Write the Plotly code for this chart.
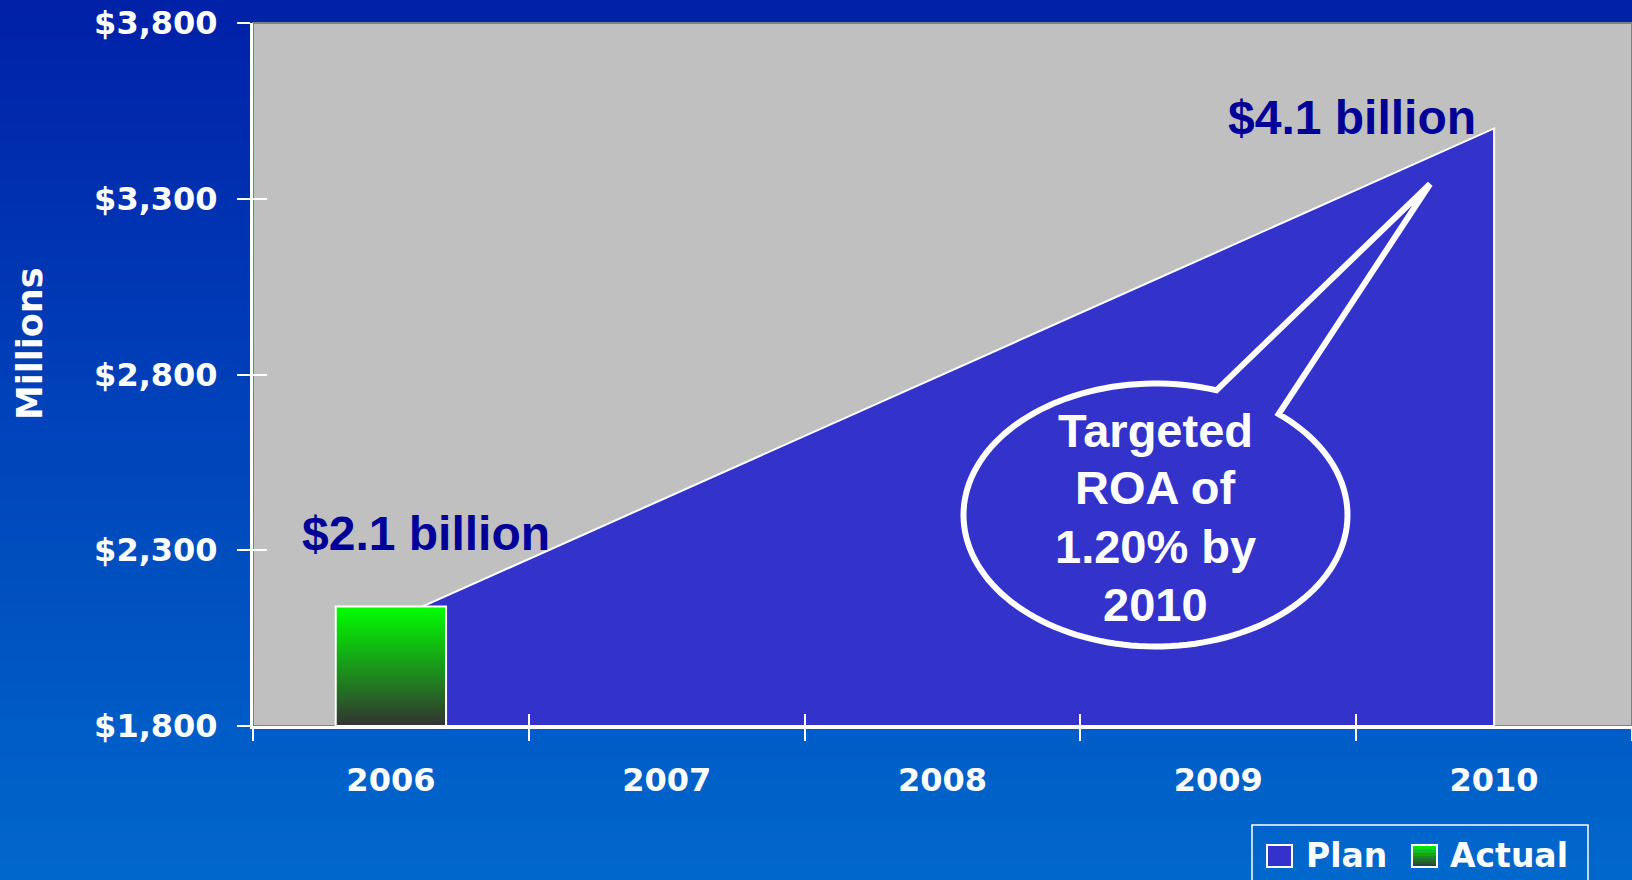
import math
import plotly.graph_objects as go

# ---- data (millions of dollars) ----
years = ["2006", "2007", "2008", "2009", "2010"]
plan = [2100, 2450, 2800, 3150, 3500]
actual_years = ["2006"]
actual = [2140]
y_ticks = [1800, 2300, 2800, 3300, 3800]
y_tick_text = ["${:,}".format(v) for v in y_ticks]

Y_MIN, Y_MAX = 1800, 3800
BAR_HALF = 0.2

# ---- page geometry ----
W, H = 1632, 880
ML, MR, MT, MB = 253, 0, 23, 154
PW = W - ML - MR
PH = H - MT - MB


def px_x(px):
    return (px - ML) / PW


def px_y(py):
    return (H - MB - py) / PH


PLAN_BLUE = "#3333CC"
NAVY = "#000099"
WHITE = "white"
TICK_FONT = dict(family="DejaVu Sans", size=32, color=WHITE, weight="bold")
LABEL_FONT = "Liberation Sans"

idx = list(range(len(years)))
bounds = [i - 0.5 for i in idx] + [idx[-1] + 0.5]

fig = go.Figure()

# Plan: filled region under the plan line
fig.add_trace(go.Scatter(
    x=idx + [idx[-1], idx[0]],
    y=plan + [Y_MIN, Y_MIN],
    mode="lines", fill="toself", fillcolor=PLAN_BLUE,
    line=dict(color=WHITE, width=2),
    name="Plan", showlegend=False, hoverinfo="skip",
))

# Actual: gradient bar(s)
for yr, val in zip(actual_years, actual):
    c = years.index(yr)
    fig.add_trace(go.Scatter(
        x=[c - BAR_HALF, c - BAR_HALF, c + BAR_HALF, c + BAR_HALF, c - BAR_HALF],
        y=[Y_MIN, val, val, Y_MIN, Y_MIN],
        mode="lines", fill="toself",
        fillgradient=dict(type="vertical", start=Y_MIN, stop=val,
                          colorscale=[[0, "#333333"], [1, "#00FF00"]]),
        line=dict(color=WHITE, width=2),
        xaxis="x2", yaxis="y2",
        name="Actual", showlegend=False, hoverinfo="skip",
    ))

shapes = []

# page background gradient
top_rgb = (0, 32, 168)
bot_rgb = (0, 104, 204)
n_strips = 44
step = H / n_strips
for k in range(n_strips):
    f = (k + 0.5) / n_strips
    col = tuple(round(a + (b - a) * f) for a, b in zip(top_rgb, bot_rgb))
    shapes.append(dict(
        type="rect", xref="paper", yref="paper", layer="below",
        x0=px_x(-5), x1=px_x(W + 5),
        y0=px_y(k * step - 1), y1=px_y((k + 1) * step + 1),
        fillcolor="rgb(%d,%d,%d)" % col, line=dict(width=0),
    ))

# plot area
shapes.append(dict(
    type="rect", xref="paper", yref="paper", layer="below",
    x0=0, x1=1, y0=0, y1=1, fillcolor="#C0C0C0",
    line=dict(color="#808080", width=2),
))

# callout bubble with tail
cx, cy, rx, ry = 1155.5, 515, 192, 131.5
t0, t1 = math.radians(-50.1), math.radians(288.5)
n = 140
pts = []
for k in range(n + 1):
    t = t0 + (t1 - t0) * k / n
    pts.append((cx + rx * math.cos(t), cy + ry * math.sin(t)))
tip = (1430, 184)
path = "M " + " L ".join("%.5f,%.5f" % (px_x(x), px_y(y)) for x, y in pts)
path += " L %.5f,%.5f Z" % (px_x(tip[0]), px_y(tip[1]))
shapes.append(dict(
    type="path", xref="paper", yref="paper", layer="above", path=path,
    fillcolor=PLAN_BLUE, line=dict(color=WHITE, width=6),
))

# custom legend box
shapes.append(dict(
    type="rect", xref="paper", yref="paper", layer="above",
    x0=px_x(1252), x1=px_x(1588), y0=px_y(900), y1=px_y(825),
    line=dict(color=WHITE, width=1.5), fillcolor="rgba(0,0,0,0)",
))
shapes.append(dict(
    type="rect", xref="paper", yref="paper", layer="above",
    x0=px_x(1267), x1=px_x(1292), y0=px_y(867), y1=px_y(845),
    fillcolor=PLAN_BLUE, line=dict(color=WHITE, width=2),
))
g_top = (0, 255, 0)
g_bot = (51, 51, 51)
gs = 8
for k in range(gs):
    f = (k + 0.5) / gs
    col = tuple(round(a + (b - a) * f) for a, b in zip(g_top, g_bot))
    shapes.append(dict(
        type="rect", xref="paper", yref="paper", layer="above",
        x0=px_x(1412), x1=px_x(1437),
        y0=px_y(845 + (k + 1) * 22 / gs), y1=px_y(845 + k * 22 / gs),
        fillcolor="rgb(%d,%d,%d)" % col, line=dict(width=0),
    ))
shapes.append(dict(
    type="rect", xref="paper", yref="paper", layer="above",
    x0=px_x(1412), x1=px_x(1437), y0=px_y(867), y1=px_y(845),
    fillcolor="rgba(0,0,0,0)", line=dict(color=WHITE, width=2),
))

annotations = []


def label(text, x, y, size, color, family=LABEL_FONT, xanchor="center", angle=0):
    annotations.append(dict(
        text=text, x=px_x(x), y=px_y(y), xref="paper", yref="paper",
        xanchor=xanchor, yanchor="middle", showarrow=False, textangle=angle,
        font=dict(family=family, size=size, color=color, weight="bold"),
    ))


label("$2.1 billion", 425.5, 533, 48, NAVY)
label("$4.1 billion", 1352, 117.5, 48, NAVY)
for txt, yy in [("Targeted", 430), ("ROA of", 487.5), ("1.20% by", 546.5), ("2010", 604)]:
    label(txt, 1155, yy, 47, WHITE)
label("Millions", 30, 344, 35, WHITE, family="DejaVu Sans", angle=-90)
label("Plan", 1304, 855, 33, WHITE, family="DejaVu Sans", xanchor="left")
label("Actual", 1448, 855, 33, WHITE, family="DejaVu Sans", xanchor="left")

fig.update_layout(
    width=W, height=H,
    margin=dict(l=ML, r=MR, t=MT, b=MB, pad=0),
    paper_bgcolor="#0044B8",
    plot_bgcolor="rgba(0,0,0,0)",
    showlegend=False,
    shapes=shapes,
    annotations=annotations,
    xaxis=dict(
        range=[-0.5, len(years) - 0.5], tickmode="array", tickvals=idx, ticktext=years,
        ticks="", showline=True, linecolor=WHITE, linewidth=3,
        showgrid=False, zeroline=False, tickfont=TICK_FONT, ticklabelstandoff=24,
        minor=dict(tickmode="array", tickvals=bounds, ticks="outside",
                   ticklen=12, tickwidth=2, tickcolor=WHITE, showgrid=False),
        fixedrange=True,
    ),
    yaxis=dict(
        range=[Y_MIN, Y_MAX], tickmode="array", tickvals=y_ticks, ticktext=y_tick_text,
        ticks="outside", ticklen=13, tickwidth=2, tickcolor=WHITE,
        showline=True, linecolor=WHITE, linewidth=3,
        showgrid=False, zeroline=False, tickfont=TICK_FONT, ticklabelstandoff=13,
        fixedrange=True,
    ),
    xaxis2=dict(
        overlaying="x", anchor="y2", range=[-0.5, len(years) - 0.5],
        tickmode="array", tickvals=bounds, ticks="inside", ticklen=12,
        tickwidth=2, tickcolor=WHITE, showticklabels=False,
        showline=False, showgrid=False, zeroline=False, fixedrange=True,
    ),
    yaxis2=dict(
        overlaying="y", anchor="x2", range=[Y_MIN, Y_MAX],
        tickmode="array", tickvals=y_ticks, ticks="inside", ticklen=14,
        tickwidth=2, tickcolor=WHITE, showticklabels=False,
        showline=False, showgrid=False, zeroline=False, fixedrange=True,
    ),
)

fig.write_html("out.html", config={"displayModeBar": False})
